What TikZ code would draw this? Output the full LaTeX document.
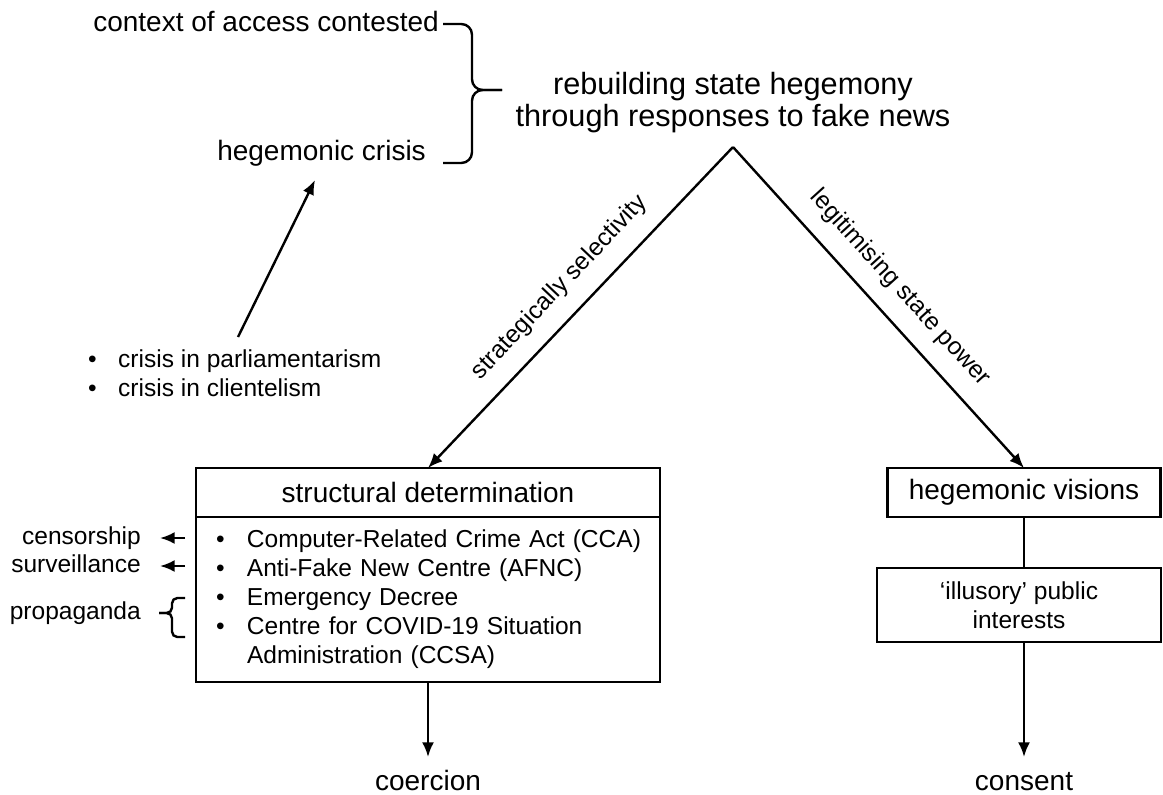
\documentclass[tikz,border=0pt]{standalone}
\usepackage{fontspec}
\setmainfont{Liberation Sans}
\usetikzlibrary{arrows.meta}

\tikzset{every picture/.style={line width=1.8pt}}

\begin{document}
\begin{tikzpicture}[x=0.75pt,y=0.75pt,yscale=-1,xscale=1,
  lbl/.style={font=\fontsize{21}{25}\selectfont, inner sep=0pt},
  ttl/.style={font=\fontsize{23}{24}\selectfont, inner sep=0pt, align=center},
  sfont/.style={font=\fontsize{18.4}{21.8}\selectfont},
  sml/.style={sfont, inner sep=0pt, text height=13.2pt, text depth=3.9pt},
  edgelbl/.style={sml, midway, anchor=south, outer sep=13pt},
  box/.style={draw, line width=2.1pt, outer sep=0pt, lbl},
  arr/.style={-{Latex[length=11pt,width=9pt]}, line width=1.8pt},
  outc/.style={lbl, text height=15pt, text depth=4pt, inner ysep=9.5pt}]
\useasboundingbox (0,0) rectangle (1163,795);

% Text Node
\node[ttl] (title) at (733,103) {rebuilding state hegemony\\through responses to fake news};
\coordinate (apex) at (733,147);
% Text Node
\node[lbl, anchor=base east] (ctx) at (440,32) {context of access contested};
% Text Node
\node[lbl, anchor=base east] (hcrisis) at (427,161) {hegemonic crisis};
%Curve Lines
\draw[rounded corners=8pt] (443,24) -- (472,24) -- (472,90) -- (502,90);
\draw[rounded corners=8pt] (443,163) -- (472,163) -- (472,90) -- (502,90);

% Text Node
\node[sfont, inner sep=0pt, anchor=west] (crisisin) at (87,376.5) {\begin{tabular}{@{}p{22.5pt}@{}l@{}}
\textbullet & crisis in parliamentarism\\
\textbullet & crisis in clientelism
\end{tabular}};
\coordinate (ctail) at (238,337);
\coordinate (chead) at (315,180);
%Straight Lines
\draw[arr] (ctail) -- (chead);

%Shape: Rectangle
\node[box, minimum width=348pt, minimum height=36.75pt] (sdhead) at (428,492.5) {structural determination};
\node[box, sfont, anchor=north, minimum width=348pt, minimum height=123.75pt, inner xsep=15pt, text width=318pt, align=left] (sdbody) at (sdhead.south) {\begin{tabular}{@{}p{23.25pt}@{}l@{}}
\textbullet & Computer-Related Crime Act (CCA)\\
\textbullet & Anti-Fake New Centre (AFNC)\\
\textbullet & Emergency Decree\\
\textbullet & Centre for COVID-19 Situation\\
 & Administration (CCSA)
\end{tabular}};

%Shape: Rectangle
\node[box, minimum width=205pt, minimum height=36.75pt] (hvis) at (1024,492.5) {hegemonic visions};
\node[box, sfont, align=center, minimum width=213pt, minimum height=55.5pt] (illus) at (1019,605) {`illusory' public\\interests};

%Straight Lines
\draw[arr] (apex) -- node[edgelbl, rotate=46.5] {strategically selectivity} (sdhead.north);
\draw[arr] (apex) -- node[edgelbl, rotate=-47.8] {legitimising state power} (hvis.north);
\draw (hvis.south) -- (hvis.south |- illus.north);

% Text Node
\node[outc, anchor=north] (coerc) at (428,757) {coercion};
\node[outc, anchor=north] (consent) at (1024,757) {consent};
\draw[arr] (sdbody.south) -- (coerc.north);
\draw[arr] (illus.south -| consent.north) -- (consent.north);

% Text Node
\node[sml, anchor=east] (cens) at (142,538) {censorship};
\node[sml, anchor=east] (surv) at (142,566) {surveillance};
\node[sml, anchor=east] (prop) at (142,613) {propaganda};
\draw[arr, shorten <=8.25pt, shorten >=13.5pt] (sdbody.west |- cens.east) -- (cens.east);
\draw[arr, shorten <=8.25pt, shorten >=13.5pt] (sdbody.west |- surv.east) -- (surv.east);
%Curve Lines
\draw[rounded corners=4pt] (185,598) -- (172,598) -- (172,613) -- (159,613);
\draw[rounded corners=4pt] (185,637) -- (172,637) -- (172,613) -- (159,613);
\end{tikzpicture}
\end{document}
